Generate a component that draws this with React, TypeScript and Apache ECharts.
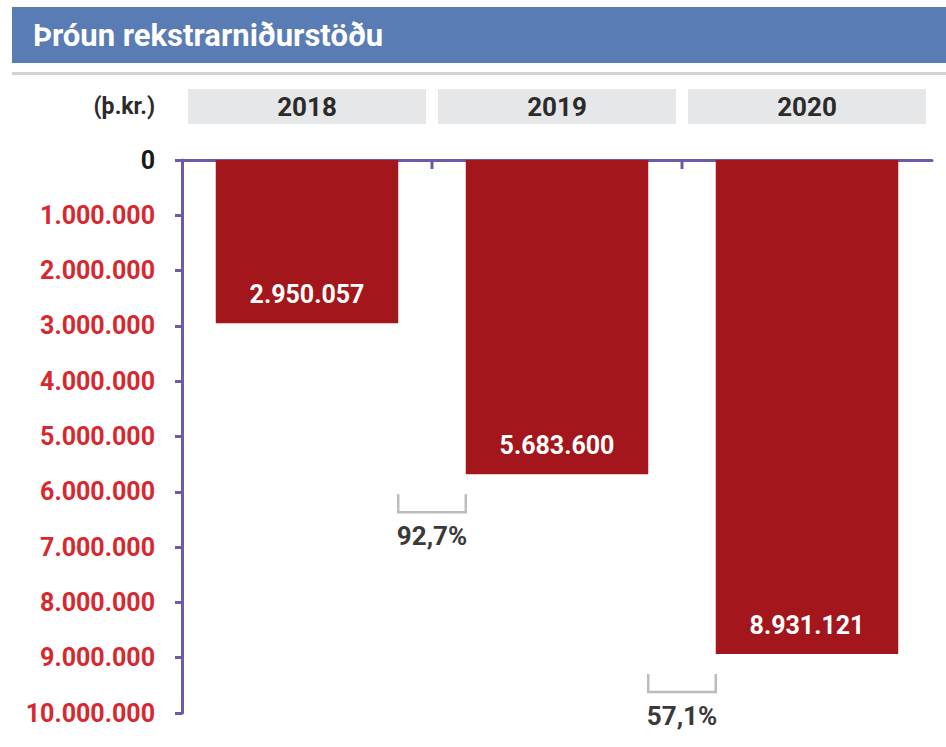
import React, { useEffect, useRef } from 'react';
import * as echarts from 'echarts';

const titleText = 'Þróun rekstrarniðurstöðu';
const unitLabel = '(þ.kr.)';
const years = ['2018', '2019', '2020'];
const results = [2950057, 5683600, 8931121];
const growthLabels = ['92,7%', '57,1%'];
const yMin = 0;
const yMax = 10000000;
const yStep = 1000000;

const FONT = "Roboto, 'Noto Sans', sans-serif";
const PURPLE = '#6e5aa8';
const RED = '#d7282f';
const BAR = '#a3161b';
const BLUE = '#5a7cb4';

function fmt(v: number): string {
  return String(Math.round(v)).replace(/\B(?=(\d{3})+(?!\d))/g, '.');
}

export default function App() {
  const ref = useRef<HTMLDivElement>(null);
  useEffect(() => {
    if (!ref.current) return;
    const chart = echarts.init(ref.current, undefined, { renderer: 'svg' });
    const option: any = {
      animation: false,
      grid: { left: 182, right: 14, top: 160, bottom: 34 },
      xAxis: {
        type: 'category',
        data: years,
        position: 'top',
        boundaryGap: true,
        axisLine: { lineStyle: { color: PURPLE, width: 3 } },
        axisTick: { show: false },
        axisLabel: {
          margin: 36,
          color: '#2b2b2b',
          fontFamily: FONT,
          fontWeight: 'bold',
          fontSize: 26,
          backgroundColor: '#e6e7e8',
          width: 238,
          height: 35,
          lineHeight: 35,
          align: 'center',
        },
      },
      yAxis: {
        type: 'value',
        inverse: true,
        min: yMin,
        max: yMax,
        interval: yStep,
        axisLine: { show: true, lineStyle: { color: PURPLE, width: 3 } },
        axisTick: { show: true, length: 7, lineStyle: { color: PURPLE, width: 3 } },
        splitLine: { show: false },
        axisLabel: {
          margin: 27,
          formatter: (v: number) => fmt(v),
          color: (v: any) => (Number(v) === 0 ? '#1a1a1a' : RED),
          fontFamily: FONT,
          fontWeight: 'bold',
          fontSize: 25,
        },
      },
      series: [
        {
          type: 'bar',
          data: results,
          barWidth: '73%',
          itemStyle: { color: BAR },
          label: {
            show: true,
            position: 'insideBottom',
            distance: 16,
            formatter: (p: any) => fmt(p.value),
            color: '#ffffff',
            fontFamily: FONT,
            fontWeight: 'bold',
            fontSize: 25,
          },
        },
        {
          type: 'custom',
          z: 10,
          silent: true,
          data: years.slice(1).map((_, i) => [i + 1, yMin]),
          renderItem: (params: any, api: any) => {
            const p = api.coord([api.value(0), api.value(1)]);
            const band = api.size([1, 0])[0];
            const x = p[0] - band / 2;
            return {
              type: 'line',
              shape: { x1: x, y1: p[1], x2: x, y2: p[1] + 9 },
              style: { stroke: PURPLE, lineWidth: 3 },
            };
          },
        },
        {
          type: 'custom',
          z: 10,
          data: growthLabels.map((_, i) => [i + 1, results[i + 1]]),
          renderItem: (params: any, api: any) => {
            const i = api.value(0);
            const v = api.value(1);
            const p = api.coord([i, v]);
            const band = api.size([1, 0])[0];
            const half = (band * 0.73) / 2;
            const x1 = p[0] - band + half;
            const x2 = p[0] - half;
            const y = p[1] + 20;
            return {
              type: 'group',
              children: [
                {
                  type: 'polyline',
                  shape: { points: [[x1, y], [x1, y + 18], [x2, y + 18], [x2, y]] },
                  style: { stroke: '#b9bdc1', lineWidth: 2.5, fill: null },
                },
                {
                  type: 'text',
                  style: {
                    text: growthLabels[params.dataIndex],
                    x: (x1 + x2) / 2,
                    y: y + 42,
                    align: 'center',
                    verticalAlign: 'middle',
                    fill: '#3a3a3a',
                    font: `bold 26px ${FONT}`,
                  },
                },
              ],
            };
          },
        },
      ],
      graphic: [
        { type: 'rect', shape: { x: 12, y: 7, width: 934, height: 56 }, style: { fill: BLUE } },
        {
          type: 'text',
          style: {
            text: titleText,
            x: 33,
            y: 35,
            align: 'left',
            verticalAlign: 'middle',
            fill: '#ffffff',
            font: `bold 31px ${FONT}`,
          },
        },
        { type: 'rect', shape: { x: 12, y: 72, width: 934, height: 3 }, style: { fill: '#d3d3d3' } },
        {
          type: 'text',
          style: {
            text: unitLabel,
            x: 155,
            y: 106,
            align: 'right',
            verticalAlign: 'middle',
            fill: '#2b2b2b',
            font: `bold 23px ${FONT}`,
          },
        },
      ],
    };
    chart.setOption(option);
    return () => chart.dispose();
  }, []);
  return <div ref={ref} style={{ width: 946, height: 747, position: 'absolute', left: 0, top: 0 }} />;
}
